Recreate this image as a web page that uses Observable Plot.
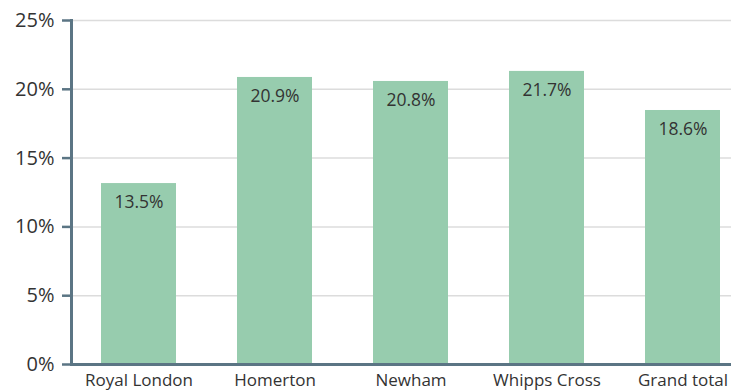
<!DOCTYPE html>
<html><head><meta charset="utf-8">
<script src="https://cdn.jsdelivr.net/npm/d3@7"></script>
<script src="https://cdn.jsdelivr.net/npm/@observablehq/plot@0.6"></script>
<style>
body{margin:0;background:#fff;}
#chart svg{font-family:"Open Sans",sans-serif;}
</style></head>
<body><div id="chart"></div>
<script>
const sites = ["Royal London","Homerton","Newham","Whipps Cross","Grand total"];
const barValues = [13.15, 20.86, 20.57, 21.3, 18.46];
const labels = ["13.5%","20.9%","20.8%","21.7%","18.6%"];
const yTicks = [0,5,10,15,20,25];

const data = sites.map((s,i)=>({site:s, value:barValues[i], label:labels[i]}));
const axisColor = "#5b7584";
const textColor = "#333";

const chart = Plot.plot({
  width: 731, height: 391,
  marginLeft: 71, marginRight: 0, marginTop: 20, marginBottom: 27,
  style:{fontFamily:"'Open Sans',sans-serif", color:textColor, background:"#fff"},
  x:{domain:sites, range:[71,749], paddingInner:0.45, paddingOuter:0.2176, label:null},
  y:{domain:[0,25], label:null},
  marks:[
    Plot.ruleY(yTicks.filter(d=>d>0), {stroke:"#dcdcdc", strokeWidth:1.5}),
    Plot.barY(data, {x:"site", y:"value", fill:"#97ccae"}),
    Plot.text(data, {x:"site", y:"value", text:"label", dy:19, fontSize:17.5, letterSpacing:0.5, fill:textColor}),
    Plot.axisY(yTicks, {tickFormat:d=>d+"%", tickSize:9, tickPadding:8, fontSize:20, stroke:axisColor, strokeWidth:2.5, fill:textColor}),
    Plot.frame({anchor:"left", stroke:axisColor, strokeWidth:3}),
    Plot.axisX({tickSize:0, tickPadding:9, fontSize:17, fill:textColor}),
    Plot.ruleY([0], {stroke:axisColor, strokeWidth:3, dx:0})
  ]
});
document.getElementById("chart").appendChild(chart);
</script></body></html>
